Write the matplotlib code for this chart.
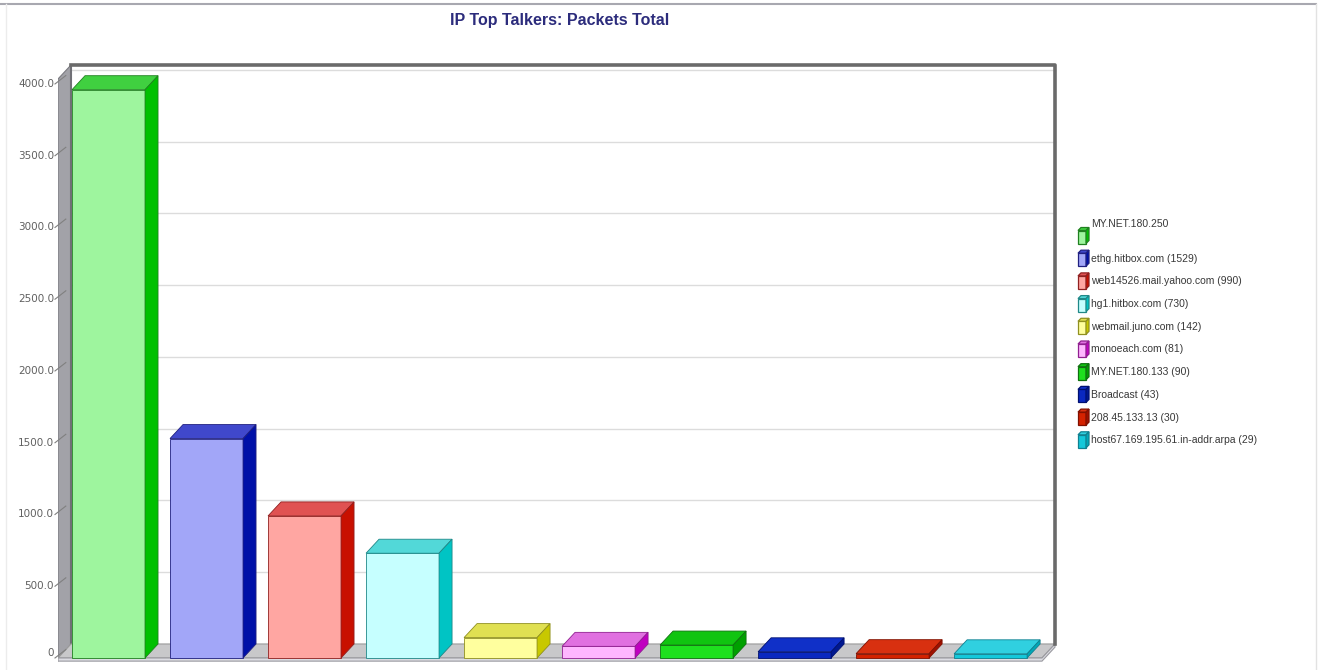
import matplotlib
matplotlib.use("Agg")
import matplotlib.pyplot as plt
from matplotlib.lines import Line2D
from matplotlib.patches import Polygon

# data
hosts = ["MY.NET.180.250", "ethg.hitbox.com", "web14526.mail.yahoo.com", "hg1.hitbox.com",
         "webmail.juno.com", "monoeach.com", "MY.NET.180.133", "Broadcast",
         "208.45.133.13", "host67.169.195.61.in-addr.arpa"]
packets = [3960, 1529, 990, 730, 142, 81, 90, 43, 30, 29]
# first legend entry shows no count in the picture
legend_counts = [None, 1529, 990, 730, 142, 81, 90, 43, 30, 29]
y_ticks = [0, 500, 1000, 1500, 2000, 2500, 3000, 3500, 4000]
y_tick_labels = ["0", "500.0", "1000.0", "1500.0", "2000.0", "2500.0", "3000.0", "3500.0", "4000.0"]

front_colors = ["#9ef59e", "#a2a6f8", "#ffa6a2", "#c6ffff", "#ffff9e",
                "#ffb6ff", "#1ee01e", "#0a28c0", "#d42200", "#14c8da"]
top_colors = ["#40d040", "#4048cc", "#e05252", "#52d8d8", "#e0e052",
              "#e070e0", "#10c410", "#1030c8", "#d83010", "#30d0e0"]
side_colors = ["#00c000", "#0010a8", "#c81000", "#00c4c4", "#c8c800",
               "#c000c0", "#00a000", "#001890", "#a01000", "#00a8b8"]
edge_colors = ["#208020", "#202080", "#902020", "#208888", "#909020",
               "#902090", "#107010", "#001070", "#801000", "#108090"]

W, H = 1324, 670
fig = plt.figure(figsize=(W / 100, H / 100), dpi=100)
fig.patch.set_facecolor("white")

# plot box in pixels (front-left corner to back-right corner)
L, R, T, B = 58, 1057, 62, 663
ax = fig.add_axes([L / W, 1 - B / H, (R - L) / W, (B - T) / H])
xmin, xmax = -0.143, 10.05
ymin, ymax = -35, 4153
ax.set_xlim(xmin, xmax)
ax.set_ylim(ymin, ymax)
ax.axis("off")

# 3d depth offset, converted from pixels to data units
px_x = (R - L) / (xmax - xmin)
px_y = (B - T) / (ymax - ymin)
dx = 13 / px_x
dy = 14 / px_y
x_wall = xmax - 2 / px_x
y_top = ymax - 3 / px_y
x_floor = x_wall - dx

# back wall gridlines
for v in y_ticks[1:]:
    ax.plot([xmin + dx, x_wall], [v + dy, v + dy], color="#dcdcdc", lw=1, zorder=1)

# left wall
ax.add_patch(Polygon([(xmin, -22), (xmin, y_top - dy), (xmin + dx, y_top), (xmin + dx, dy)],
                     closed=True, facecolor="#a2a2a8", edgecolor="#7a7a80", lw=0.8, zorder=2))
ax.plot([xmin + dx, xmin + dx], [dy, y_top], color="#707076", lw=1.5, zorder=2)

# floor
ax.add_patch(Polygon([(xmin, 0), (x_floor, 0), (x_wall, dy), (xmin + dx, dy)],
                     closed=True, facecolor="#c8c8ca", edgecolor="#9a9a9a", lw=0.8, zorder=2))
ax.add_patch(Polygon([(xmin, -22), (x_floor, -22), (x_wall, dy - 22), (x_wall, dy), (x_floor, 0), (xmin, 0)],
                     closed=True, facecolor="#dcdce2", edgecolor="#9a9aa0", lw=0.8, zorder=2))

# back wall outline
ax.plot([xmin + dx, x_wall, x_wall], [y_top, y_top, dy], color="#6a6a6a", lw=2.6,
        solid_capstyle="projecting", zorder=2)

# ticks on the left wall
for v, lab in zip(y_ticks, y_tick_labels):
    ax.plot([xmin - 3 / px_x, xmin + dx * 0.6], [v, v + dy * 0.6], color="#808080", lw=0.8,
            zorder=2, clip_on=False)
    ax.text(xmin - 4 / px_x, v + (35 if v == 0 else 0), lab, ha="right", va="center",
            fontsize=7.5, color="#606060", family="DejaVu Sans")

# bars: front face from the library, top and side faces offset by the depth
x_pos = list(range(len(packets)))
width = 0.745
ax.bar(x_pos, packets, width=width, align="edge", color=front_colors,
       edgecolor=edge_colors, linewidth=0.6, zorder=3)
for i, v in enumerate(packets):
    x0, x1 = x_pos[i], x_pos[i] + width
    ax.add_patch(Polygon([(x0, v), (x1, v), (x1 + dx, v + dy), (x0 + dx, v + dy)], closed=True,
                         facecolor=top_colors[i], edgecolor=edge_colors[i], lw=0.6, zorder=3))
    ax.add_patch(Polygon([(x1, 0), (x1, v), (x1 + dx, v + dy), (x1 + dx, dy)], closed=True,
                         facecolor=side_colors[i], edgecolor=edge_colors[i], lw=0.6, zorder=3))

# title
fig.text(560 / W, 1 - 21 / H, "IP Top Talkers: Packets Total", ha="center", va="center",
         fontsize=11.5, fontweight="bold", color="#2c2c7c",
         family=["Liberation Sans Narrow", "Liberation Sans"])

# legend on the right, drawn as small 3d boxes
def fx(p):
    return p / W


def fy(p):
    return 1 - p / H


lx, lw_, lh, ld = 1078, 8, 13, 3
for i, name in enumerate(hosts):
    yc = 236 + 22.7 * i
    fl, fr, ft, fb = lx, lx + lw_, yc - lh / 2 + 1, yc + lh / 2 + 1
    fig.add_artist(Polygon([(fx(fl), fy(fb)), (fx(fr), fy(fb)), (fx(fr), fy(ft)), (fx(fl), fy(ft))],
                           closed=True, transform=fig.transFigure, facecolor=front_colors[i],
                           edgecolor=edge_colors[i], lw=0.9))
    fig.add_artist(Polygon([(fx(fl), fy(ft)), (fx(fr), fy(ft)), (fx(fr + ld), fy(ft - ld)), (fx(fl + ld), fy(ft - ld))],
                           closed=True, transform=fig.transFigure, facecolor=top_colors[i],
                           edgecolor=edge_colors[i], lw=0.9))
    fig.add_artist(Polygon([(fx(fr), fy(fb)), (fx(fr), fy(ft)), (fx(fr + ld), fy(ft - ld)), (fx(fr + ld), fy(fb - ld))],
                           closed=True, transform=fig.transFigure, facecolor=side_colors[i],
                           edgecolor=edge_colors[i], lw=0.9))
    cnt = legend_counts[i]
    label = name if cnt is None else f"{name} ({cnt})"
    ty = yc - 12 if i == 0 else yc
    fig.text(fx(1091), fy(ty), label, ha="left", va="center", fontsize=7.5, color="#383838",
             family=["Liberation Sans Narrow", "Liberation Sans"])

# outer frame lines of the screenshot
fig.add_artist(Line2D([0, fx(1316)], [fy(4), fy(4)], transform=fig.transFigure, color="#a8a8b0", lw=1.5))
fig.add_artist(Line2D([fx(1316), fx(1316)], [fy(4), 0], transform=fig.transFigure, color="#e2e2e2", lw=1))
fig.add_artist(Line2D([fx(6), fx(6)], [fy(4), 0], transform=fig.transFigure, color="#ececec", lw=1))

fig.savefig("out.png", dpi=100)
